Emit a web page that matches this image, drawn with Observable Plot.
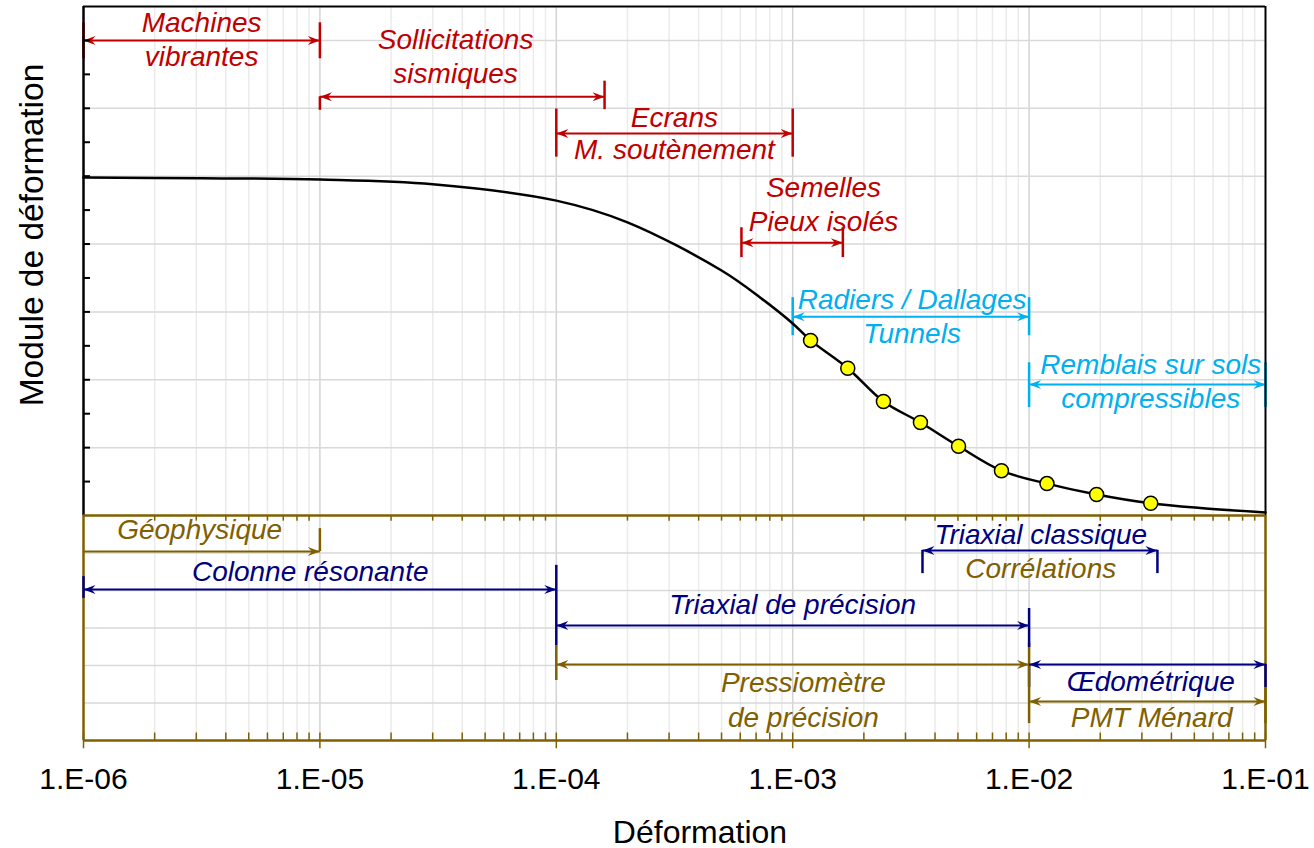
<!DOCTYPE html>
<html><head><meta charset="utf-8">
<script src="https://cdn.jsdelivr.net/npm/d3@7"></script>
<script src="https://cdn.jsdelivr.net/npm/@observablehq/plot@0.6"></script>
<style>
body{margin:0;background:#fff;font-family:"Liberation Sans",Arial,sans-serif;}
#chart{position:relative;width:1314px;height:848px;overflow:hidden;background:#fff;}
#upper,#lower{position:absolute;left:0;}
#upper{top:0}
#lower{top:514px}
.ytitle{position:absolute;left:32px;top:235px;transform:translate(-50%,-50%) rotate(-90deg);font-size:33.5px;white-space:nowrap;color:#000}
.xtitle{position:absolute;left:700px;top:832px;transform:translate(-50%,-50%);font-size:32px;white-space:nowrap;color:#000}
</style></head>
<body><div id="chart"><div id="upper"></div><div id="lower"></div>
<div class="ytitle">Module de déformation</div><div class="xtitle">Déformation</div></div>
<script>
const FONT = "Liberation Sans, Arial, sans-serif";
const RED = "#c00000", CYAN = "#00b0f0", NAVY = "#000080", BROWN = "#7f6000";

// x axis ticks
const xTicks = [1e-6, 1e-5, 1e-4, 1e-3, 1e-2, 1e-1];
const xTickLabels = ["1.E-06", "1.E-05", "1.E-04", "1.E-03", "1.E-02", "1.E-01"];

// degradation curve (strain, modulus in panel units)
const curveStrain  = [1e-6, 3.16e-6, 1e-5, 3e-5, 1e-4, 2e-4, 5e-4, 7.3e-4, 1e-3, 1.19e-3, 1.71e-3, 2.42e-3, 3.47e-3, 5.03e-3, 7.64e-3, 1.19e-2, 1.93e-2, 3.27e-2, 5.3e-2, 1e-1];
const curveModulus = [4.98, 4.97, 4.95, 4.88, 4.64, 4.32, 3.61, 3.21, 2.83, 2.58, 2.17, 1.68, 1.37, 1.02, 0.66, 0.47, 0.31, 0.18, 0.11, 0.045];

// measured points (yellow)
const pointStrain  = [1.19e-3, 1.71e-3, 2.42e-3, 3.47e-3, 5.03e-3, 7.64e-3, 1.19e-2, 1.93e-2, 3.27e-2];
const pointModulus = [2.58, 2.17, 1.68, 1.37, 1.02, 0.66, 0.47, 0.31, 0.18];

// upper panel: application ranges
const upperSpans = [
  {x1: 1e-6, x2: 1e-5, y: 7.0, color: RED, start: true},
  {x1: 1e-5, x2: 1.6e-4, y: 6.17, color: RED, start: true},
  {x1: 1e-4, x2: 1e-3, y: 5.63, color: RED, start: true},
  {x1: 6.07e-4, x2: 1.63e-3, y: 4.02, color: RED, start: true},
  {x1: 1e-3, x2: 1e-2, y: 2.93, color: CYAN, start: true},
  {x1: 1e-2, x2: 1e-1, y: 1.93, color: CYAN, start: true}
];
const upperBars = [
  {x: 1e-6, y1: 6.73, y2: 7.26, color: RED}, {x: 1e-5, y1: 6.73, y2: 7.26, color: RED},
  {x: 1e-5, y1: 5.97, y2: 6.17, color: RED}, {x: 1.6e-4, y1: 5.98, y2: 6.40, color: RED},
  {x: 1e-4, y1: 5.28, y2: 5.99, color: RED}, {x: 1e-3, y1: 5.28, y2: 5.99, color: RED},
  {x: 6.07e-4, y1: 3.80, y2: 4.24, color: RED}, {x: 1.63e-3, y1: 3.80, y2: 4.24, color: RED},
  {x: 1e-3, y1: 2.65, y2: 3.21, color: CYAN}, {x: 1e-2, y1: 2.65, y2: 3.21, color: CYAN},
  {x: 1e-2, y1: 1.59, y2: 2.25, color: CYAN}, {x: 1e-1, y1: 1.59, y2: 2.25, color: CYAN}
];
const upperLabels = [
  {x: 3.16e-6, y: 7.25, text: "Machines", color: RED},
  {x: 3.16e-6, y: 6.75, text: "vibrantes", color: RED},
  {x: 3.75e-5, y: 7.0, text: "Sollicitations", color: RED},
  {x: 3.75e-5, y: 6.5, text: "sismiques", color: RED},
  {x: 3.16e-4, y: 5.86, text: "Ecrans", color: RED},
  {x: 3.16e-4, y: 5.38, text: "M. soutènement", color: RED},
  {x: 1.35e-3, y: 4.82, text: "Semelles", color: RED},
  {x: 1.35e-3, y: 4.32, text: "Pieux isolés", color: RED},
  {x: 3.2e-3, y: 3.17, text: "Radiers / Dallages", color: CYAN},
  {x: 3.2e-3, y: 2.68, text: "Tunnels", color: CYAN},
  {x: 3.27e-2, y: 2.21, text: "Remblais sur sols", color: CYAN},
  {x: 3.27e-2, y: 1.71, text: "compressibles", color: CYAN}
];

// lower panel: test ranges (rows counted from top)
const lowerSpans = [
  {x1: 1e-6, x2: 1e-5, y: 0.96, color: BROWN, start: false},
  {x1: 1e-6, x2: 1e-4, y: 1.97, color: NAVY, start: true},
  {x1: 1e-4, x2: 1e-2, y: 2.93, color: NAVY, start: true},
  {x1: 1e-4, x2: 1e-2, y: 3.97, color: BROWN, start: true},
  {x1: 3.54e-3, x2: 3.49e-2, y: 0.93, color: NAVY, start: true},
  {x1: 1e-2, x2: 1e-1, y: 3.97, color: NAVY, start: true},
  {x1: 1e-2, x2: 1e-1, y: 4.96, color: BROWN, start: true}
];
const lowerBars = [
  {x: 1e-5, y1: 0.35, y2: 0.96, color: BROWN},
  {x: 1e-6, y1: 1.63, y2: 2.21, color: NAVY},
  {x: 1e-4, y1: 3.47, y2: 4.4, color: BROWN},
  {x: 1e-4, y1: 1.33, y2: 3.47, color: NAVY},
  {x: 1e-2, y1: 3.97, y2: 4.59, color: NAVY},
  {x: 1e-2, y1: 3.41, y2: 5.55, color: BROWN},
  {x: 1e-2, y1: 2.48, y2: 3.52, color: NAVY},
  {x: 3.54e-3, y1: 0.93, y2: 1.55, color: NAVY},
  {x: 3.49e-2, y1: 0.93, y2: 1.55, color: NAVY},
  {x: 1e-1, y1: 3.97, y2: 4.59, color: NAVY},
  {x: 1e-1, y1: 4.59, y2: 5.55, color: BROWN}
];
const lowerLabels = [
  {x: 3.1e-6, y: 0.40, text: "Géophysique", color: BROWN},
  {x: 9.1e-6, y: 1.52, text: "Colonne résonante", color: NAVY},
  {x: 1e-3, y: 2.40, text: "Triaxial de précision", color: NAVY},
  {x: 1.11e-3, y: 4.48, text: "Pressiomètre", color: BROWN},
  {x: 1.11e-3, y: 5.41, text: "de précision", color: BROWN},
  {x: 1.12e-2, y: 0.53, text: "Triaxial classique", color: NAVY},
  {x: 1.12e-2, y: 1.44, text: "Corrélations", color: BROWN},
  {x: 3.27e-2, y: 4.45, text: "Œdométrique", color: NAVY},
  {x: 3.3e-2, y: 5.41, text: "PMT Ménard", color: BROWN}
];

const upperGridY = [1, 2, 3, 4, 5, 6, 7];
const upperTicksY = [0.5, 1, 1.5, 2, 2.5, 3, 3.5, 4, 4.5, 5, 5.5, 6, 6.5, 7];
const lowerGridRows = [1, 2, 3, 4, 5];

// log minor gridlines
const minorX = [];
for (let e = -6; e < -1; e++) for (let k = 2; k <= 9; k++) minorX.push(+(k * Math.pow(10, e)).toPrecision(6));
const innerDecades = xTicks.slice(1, -1);

const curve = curveStrain.map((x, i) => ({x, y: curveModulus[i]}));
const points = pointStrain.map((x, i) => ({x, y: pointModulus[i]}));
const labelOf = new Map(xTicks.map((d, i) => [d, xTickLabels[i]]));

const arrowHead = {draw(ctx) { ctx.moveTo(0, 0); ctx.lineTo(-12, -4.5); ctx.lineTo(-8, 0); ctx.lineTo(-12, 4.5); ctx.closePath(); }};

function spanMarks(spans) {
  return spans.flatMap(s => {
    const m = [
      Plot.link([s], {x1: "x1", x2: "x2", y1: "y", y2: "y", stroke: s.color, strokeWidth: 2}),
      Plot.dot([s], {x: "x2", y: "y", symbol: arrowHead, fill: s.color, stroke: "none"})
    ];
    if (s.start) m.push(Plot.dot([s], {x: "x1", y: "y", symbol: arrowHead, rotate: 180, fill: s.color, stroke: "none"}));
    return m;
  });
}
function barMarks(bars) {
  return bars.map(b => Plot.ruleX([b], {x: "x", y1: "y1", y2: "y2", stroke: b.color, strokeWidth: 2.5}));
}
function labelMarks(labels) {
  return labels.map(l => Plot.text([l], {x: "x", y: "y", text: "text", fill: l.color, fontSize: 28, fontStyle: "italic", fontFamily: FONT}));
}

const upper = Plot.plot({
  width: 1314, height: 516, marginLeft: 83, marginRight: 49, marginTop: 6, marginBottom: 1,
  style: {background: "transparent", fontFamily: FONT, overflow: "visible"},
  x: {type: "log", domain: [1e-6, 1e-1], axis: null},
  y: {domain: [0, 7.5]},
  marks: [
    Plot.ruleX(minorX, {stroke: "#ebebeb", strokeWidth: 1.5}),
    Plot.ruleX(innerDecades, {stroke: "#d4d4d4", strokeWidth: 1.5}),
    Plot.ruleY(upperGridY, {stroke: "#d9d9d9", strokeWidth: 1.5}),
    ...barMarks(upperBars),
    ...spanMarks(upperSpans),
    ...labelMarks(upperLabels),
    Plot.line(curve, {x: "x", y: "y", curve: "catmull-rom", stroke: "black", strokeWidth: 2.5}),
    Plot.dot(points, {x: "x", y: "y", r: 7, fill: "#ffff00", stroke: "black", strokeWidth: 1.5}),
    Plot.ruleX([1e-6], {stroke: "black", strokeWidth: 2.5}),
    Plot.ruleX([1e-1], {stroke: "black", strokeWidth: 2}),
    Plot.ruleY([7.5], {stroke: "black", strokeWidth: 2}),
    Plot.axisY(upperTicksY, {anchor: "left", tickSize: 7, dx: 7, tickFormat: () => "", stroke: "black", strokeWidth: 2, label: null})
  ]
});
document.getElementById("upper").appendChild(upper);

const lower = Plot.plot({
  width: 1314, height: 334, marginLeft: 83, marginRight: 49, marginTop: 1, marginBottom: 108,
  style: {background: "transparent", fontFamily: FONT, overflow: "visible"},
  x: {type: "log", domain: [1e-6, 1e-1]},
  y: {domain: [6, 0], axis: null},
  marks: [
    Plot.ruleX(minorX, {stroke: "#ebebeb", strokeWidth: 1.5}),
    Plot.ruleX(innerDecades, {stroke: "#d4d4d4", strokeWidth: 1.5}),
    Plot.ruleY(lowerGridRows, {stroke: "#d9d9d9", strokeWidth: 1.5}),
    Plot.ruleX(minorX, {y1: 0, y2: 0.15, stroke: BROWN, strokeWidth: 1.5}),
    Plot.ruleX(minorX, {y1: 5.8, y2: 6, stroke: BROWN, strokeWidth: 1.5}),
    Plot.ruleX(xTicks, {y1: 5.8, y2: 6.22, stroke: BROWN, strokeWidth: 1.5}),
    Plot.ruleY([0], {stroke: BROWN, strokeWidth: 2.5}),
    Plot.ruleY([6], {stroke: BROWN, strokeWidth: 2.5}),
    Plot.ruleX([1e-6], {stroke: BROWN, strokeWidth: 2.5}),
    Plot.ruleX([1e-1], {stroke: BROWN, strokeWidth: 2.5}),
    ...barMarks(lowerBars),
    ...spanMarks(lowerSpans),
    ...labelMarks(lowerLabels),
    Plot.axisX(xTicks, {tickSize: 0, tickPadding: 27, tickFormat: d => labelOf.get(d), fontSize: 30, fill: "black", label: null})
  ]
});
document.getElementById("lower").appendChild(lower);
</script></body></html>
